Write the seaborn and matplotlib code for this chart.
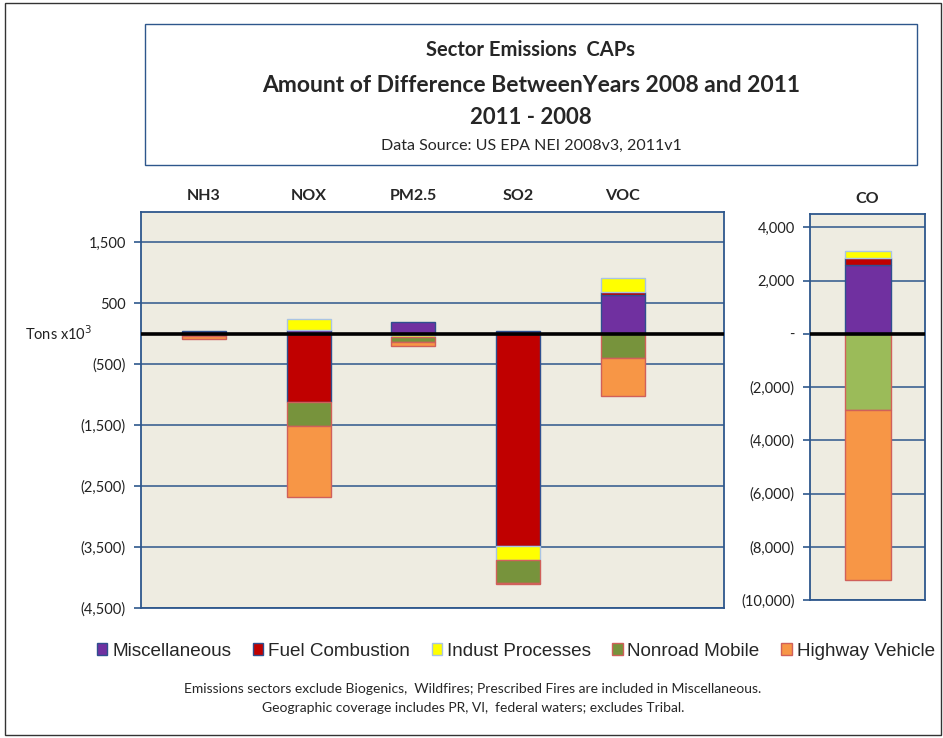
import numpy as np
import pandas as pd
import matplotlib
matplotlib.use("Agg")
import matplotlib.pyplot as plt
from matplotlib.patches import Rectangle, Patch
import seaborn as sns

# ---------------- data (Tons x 10^3, 2011 - 2008) ----------------
categories = ["NH3", "NOX", "PM2.5", "SO2", "VOC"]
series_names = ["Miscellaneous", "Fuel Combustion", "Indust Processes",
                "Nonroad Mobile", "Highway Vehicle"]
misc = [40, 65, 200, 50, 640]
fuel = [-15, -1120, -15, -3480, 50]
indust = [-5, 180, -45, -235, 225]
nonroad = [-12, -385, -75, -365, -390]
highway = [-55, -1165, -65, -20, -625]

co_category = ["CO"]
co_misc = [2580]
co_fuel = [250]
co_indust = [270]
co_nonroad = [-2880]
co_highway = [-6380]

left_ticks = [1500, 500, -500, -1500, -2500, -3500, -4500]
left_ticklabels = ["1,500", "500", "(500)", "(1,500)", "(2,500)", "(3,500)", "(4,500)"]
co_ticks = [4000, 2000, 0, -2000, -4000, -6000, -8000, -10000]
co_ticklabels = ["4,000", "2,000", "-", "(2,000)", "(4,000)", "(6,000)", "(8,000)", "(10,000)"]

# ---------------- styles ----------------
fills = ["#7030A0", "#C00000", "#FFFF00", "#77933C", "#F79646"]
co_fills = ["#7030A0", "#C00000", "#FFFF00", "#9BBB59", "#F79646"]
edges = ["#2F4F8F", "#2F4F8F", "#A9C4E4", "#D0605A", "#D0605A"]
BG = "#EEECE1"
GRID = "#2E578C"

sns.set_theme(style="white")
plt.rcParams["font.family"] = ["Lato", "DejaVu Sans"]

fig = plt.figure(figsize=(9.43, 7.38), dpi=100)
W, H = 943, 738


def axes_px(x0, y0, x1, y1):
    return fig.add_axes([x0 / W, 1 - y1 / H, (x1 - x0) / W, (y1 - y0) / H])


ax = axes_px(141, 211.7, 724.3, 608.3)
axc = axes_px(810, 214, 925, 600)


def stacked(axis, cats, values, colors, width):
    vals = np.array(values, dtype=float)
    pos_base = np.zeros(vals.shape[1])
    neg_base = np.zeros(vals.shape[1])
    for i, row in enumerate(vals):
        bottom = np.where(row >= 0, pos_base, neg_base)
        df = pd.DataFrame({"cat": cats, "val": row})
        sns.barplot(data=df, x="cat", y="val", order=cats, ax=axis,
                    color=colors[i], saturation=1, width=width,
                    bottom=bottom, edgecolor=edges[i], linewidth=1.0,
                    errorbar=None, zorder=3)
        pos_base = pos_base + np.where(row >= 0, row, 0)
        neg_base = neg_base + np.where(row < 0, row, 0)


stacked(ax, categories, [misc, fuel, indust, nonroad, highway], fills, 0.42)
stacked(axc, co_category, [co_misc, co_fuel, co_indust, co_nonroad, co_highway],
        co_fills, 0.4)


def style(axis, ylim, ticks, labels):
    axis.set_facecolor(BG)
    axis.set_ylim(*ylim)
    axis.set_yticks(ticks)
    axis.set_yticklabels(labels, fontsize=10.5, color="#222222")
    for t in ticks:
        if t != 0:
            axis.axhline(t, color=GRID, lw=1.1, zorder=1)
    axis.axhline(0, color="black", lw=2.6, zorder=5)
    for s in axis.spines.values():
        s.set_color(GRID)
        s.set_linewidth(1.3)
        s.set_visible(True)
    axis.tick_params(axis="y", direction="out", length=5, width=1.2,
                     color=GRID, left=True, pad=6)
    axis.xaxis.tick_top()
    axis.tick_params(axis="x", length=0, pad=6, labelsize=11.5)
    for lab in axis.get_xticklabels():
        lab.set_fontweight("bold")
    axis.set_xlabel("")
    axis.set_ylabel("")


style(ax, (-4500, 2000), left_ticks, left_ticklabels)
ax.set_xlim(-0.6, 4.97)
style(axc, (-10000, 4500), co_ticks, co_ticklabels)
axc.set_xlim(-0.5, 0.5)

# Tons x10^3 label
fig.text(25 / W, 1 - 333.5 / H, r"Tons x10$^{3}$", fontsize=10.5,
         va="center", ha="left", color="#222222")

# outer border
fig.patches.append(Rectangle((5 / W, 1 - 735 / H), 936 / W, 732 / H,
                             transform=fig.transFigure, fill=False,
                             edgecolor="#333333", lw=1.0))
# title box
fig.patches.append(Rectangle((145 / W, 1 - 165 / H), 772 / W, 141 / H,
                             transform=fig.transFigure, fill=False,
                             edgecolor="#2E578C", lw=1.0))
cx = 531 / W
fig.text(cx, 1 - 50 / H, "Sector Emissions  CAPs", ha="center", va="center",
         fontsize=14.5, fontweight="bold")
fig.text(cx, 1 - 85 / H, "Amount of Difference BetweenYears 2008 and 2011",
         ha="center", va="center", fontsize=16.5, fontweight="bold")
fig.text(cx, 1 - 117 / H, "2011 - 2008", ha="center", va="center",
         fontsize=16, fontweight="bold")
fig.text(cx, 1 - 146 / H, "Data Source: US EPA NEI 2008v3, 2011v1",
         ha="center", va="center", fontsize=11.5)

# legend
handles = [Patch(facecolor=fills[i], edgecolor=edges[i], label=series_names[i])
           for i in range(5)]
fig.legend(handles=handles, loc="center left", bbox_to_anchor=(97 / W, 1 - 651 / H),
           ncol=5, frameon=False, handlelength=0.55, handleheight=0.6,
           handletextpad=0.25, columnspacing=1.15, borderpad=0, borderaxespad=0,
           prop={"family": ["Liberation Sans", "DejaVu Sans"], "size": 13.6})

fig.text(473 / W, 1 - 689 / H,
         "Emissions sectors exclude Biogenics,  Wildfires; Prescribed Fires are included in Miscellaneous.",
         ha="center", va="center", fontsize=10)
fig.text(473 / W, 1 - 708 / H,
         "Geographic coverage includes PR, VI,  federal waters; excludes Tribal.",
         ha="center", va="center", fontsize=10)

fig.savefig("out.png", dpi=100)
